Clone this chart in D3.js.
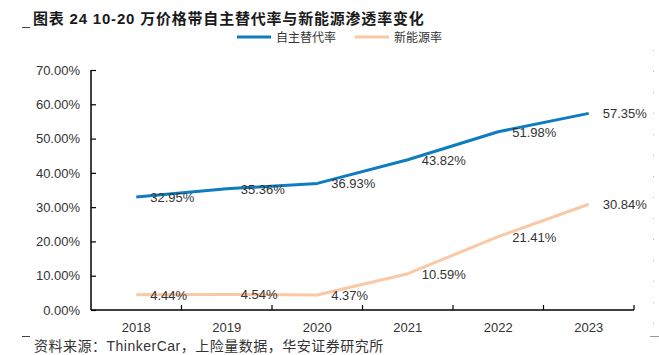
<!DOCTYPE html>
<html><head><meta charset="utf-8">
<script src="https://cdn.jsdelivr.net/npm/d3@7"></script>
<style>
html,body{margin:0;padding:0;background:#fff;}
svg{display:block;}
</style></head>
<body>
<svg id="chart" width="659" height="355"></svg>
<script>
const years = ["2018","2019","2020","2021","2022","2023"];
const selfRate = [32.95, 35.36, 36.93, 43.82, 51.98, 57.35];
const nevRate = [4.44, 4.54, 4.37, 10.59, 21.41, 30.84];
const yTicks = [0,10,20,30,40,50,60,70];
const seriesNames = ["自主替代率","新能源率"];
const seriesColors = ["#0f7cc1","#f9c9a6"];
const titleText = "图表 24 10-20 万价格带自主替代率与新能源渗透率变化";
const sourceText = "资料来源：ThinkerCar，上险量数据，华安证券研究所";

(function(){
const svg = d3.select("#chart");
const pL = 91, pR = 634, pT = 70, pB = 310;
const x = d3.scaleBand().domain(years).range([pL, pR]);
const y = d3.scaleLinear().domain([0,70]).range([pB, pT]);
const font = "'Liberation Sans', Arial, sans-serif";
const cjk = "'Noto Sans CJK SC', sans-serif";

// title
svg.append("text").attr("x",33).attr("y",23.5)
  .attr("font-family","'Liberation Sans','Noto Sans CJK SC',sans-serif").attr("font-weight","bold")
  .attr("font-size",15).attr("letter-spacing",0.8).attr("fill","#1a1a1a").text(titleText);
svg.append("line").attr("x1",22).attr("x2",30).attr("y1",27.5).attr("y2",27.5).attr("stroke","#444").attr("stroke-width",1);

// legend
const lg = svg.append("g");
const legX = [237, 355];
seriesNames.forEach((n,i)=>{
  lg.append("line").attr("x1",legX[i]).attr("x2",legX[i]+34).attr("y1",37).attr("y2",37)
    .attr("stroke",seriesColors[i]).attr("stroke-width",3);
  lg.append("text").attr("x",legX[i]+39).attr("y",41.5).attr("font-family",cjk)
    .attr("font-size",12).attr("fill","#333").text(n);
});

// axes
const yAxis = d3.axisLeft(y).tickValues(yTicks).tickSize(-5).tickPadding(11)
  .tickFormat(d=>d.toFixed(2)+"%");
const yg = svg.append("g").attr("transform",`translate(${pL},0)`).call(yAxis);
yg.select(".domain").attr("stroke","#000").attr("stroke-width",1.5).attr("d",`M0,${pT}V${pB}`);
yg.selectAll(".tick line").attr("stroke","#000").attr("stroke-width",1.2);
yg.selectAll("text").attr("font-family",font).attr("font-size",13).attr("fill","#333");

const xAxis = d3.axisBottom(x).tickSize(0).tickPadding(13);
const xg = svg.append("g").attr("transform",`translate(0,${pB})`).call(xAxis);
xg.select(".domain").attr("stroke","#000").attr("stroke-width",1.5).attr("d",`M${pL},0H${pR}`);
xg.selectAll("text").attr("font-family",font).attr("font-size",13).attr("fill","#333");
const bounds = years.map(d=>x(d)+x.bandwidth());
svg.append("g").selectAll("line").data(bounds).join("line")
  .attr("x1",d=>d).attr("x2",d=>d).attr("y1",pB).attr("y2",pB-5)
  .attr("stroke","#000").attr("stroke-width",1.2);

// faint right edge
svg.append("line").attr("x1",653.5).attr("x2",653.5).attr("y1",50).attr("y2",336)
  .attr("stroke","#bbb").attr("stroke-width",1).attr("stroke-dasharray","1,20");
svg.append("line").attr("x1",650).attr("x2",659).attr("y1",336.5).attr("y2",336.5)
  .attr("stroke","#999").attr("stroke-width",1);

// lines
const cx = d => x(d) + x.bandwidth()/2;
const data = [selfRate, nevRate];
const lineGen = d3.line().x((d,i)=>cx(years[i])).y(d=>y(d));
data.forEach((s,k)=>{
  svg.append("path").datum(s).attr("d",lineGen).attr("fill","none")
    .attr("stroke",seriesColors[k]).attr("stroke-width",3).attr("stroke-linejoin","round");
});
data.forEach((s,k)=>{
  svg.append("g").selectAll("text").data(s).join("text")
    .attr("x",(d,i)=>cx(years[i])+14).attr("y",d=>y(d)+5)
    .attr("font-family",font).attr("font-size",13).attr("fill","#333")
    .text(d=>d.toFixed(2)+"%");
});

// footer
svg.append("line").attr("x1",22).attr("x2",30).attr("y1",336.5).attr("y2",336.5).attr("stroke","#444").attr("stroke-width",1);
svg.append("text").attr("x",34).attr("y",351).attr("font-family","'Liberation Sans','Noto Sans CJK SC',sans-serif")
  .attr("font-size",14).attr("letter-spacing",0.5).attr("fill","#333").text(sourceText);
})();
</script>
</body></html>
